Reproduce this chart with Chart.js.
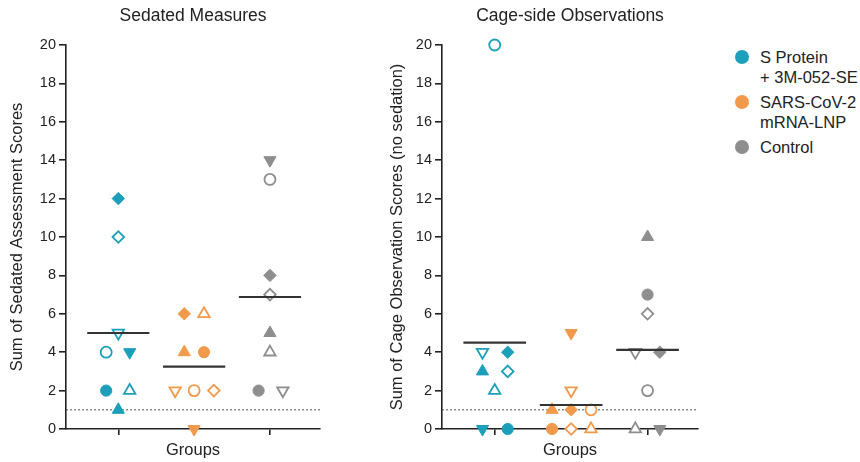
<!DOCTYPE html>
<html>
<head>
<meta charset="utf-8">
<script src="https://cdn.jsdelivr.net/npm/chart.js@4"></script>
<style>
    body { margin: 0; background: #fff; font-family: "Liberation Sans", Arial, sans-serif; }
    #wrap { position: relative; width: 860px; height: 462px; overflow: hidden; }
    canvas { position: absolute; top: 0; }
    .leg-text { position: absolute; left: 760px; font-size: 16.5px; line-height: 20px; color: #222; white-space: pre; }
    .leg-dot { position: absolute; left: 735px; width: 14px; height: 14px; border-radius: 50%; }
</style>
</head>
<body>
<div id="wrap">
    <canvas id="sedatedChart" width="340" height="462" style="left:0"></canvas>
    <canvas id="cageChart" width="380" height="462" style="left:340px"></canvas>
</div>
<script>
// Grupos e animais (cada forma de marcador = um animal)
const groupLabels = ['S Protein\n+ 3M-052-SE', 'SARS-CoV-2\nmRNA-LNP', 'Control'];
const groupColors = ['#1b9fba', '#f29a4b', '#8e8e8e'];
const animals = ['circle', 'openCircle', 'up', 'openUp', 'down', 'openDown', 'diamond', 'openDiamond'];

// Sedated Measures: score por animal (mesma ordem de "animals")
const sedatedSProtein = [2, 4, 1, 2, 4, 5, 12, 10];
const sedatedMrna = [4, 2, 4, 6, 0, 2, 6, 2];
const sedatedControl = [2, 13, 5, 4, 14, 2, 8, 7];
const sedatedMeans = [5, 3.25, 6.875];
// deslocamento horizontal de cada ponto, em unidades de grupo
const sedatedSProteinJitter = [-0.16, -0.16, 0, 0.15, 0.15, 0, 0, 0];
const sedatedMrnaJitter = [0.13, 0, -0.13, 0.13, 0, -0.25, -0.13, 0.26];
const sedatedControlJitter = [-0.15, 0, 0, 0, 0, 0.17, 0, 0];

// Cage-side Observations
const cageSProtein = [0, 20, 3, 2, 0, 4, 4, 3];
const cageMrna = [0, 1, 1, 0, 5, 2, 1, 0];
const cageControl = [7, 2, 10, 0, 0, 4, 4, 6];
const cageMeans = [4.5, 1.25, 4.125];
const cageSProteinJitter = [0.17, 0, -0.16, 0, -0.16, -0.16, 0.17, 0.17];
const cageMrnaJitter = [-0.25, 0.26, -0.25, 0.26, 0, 0, 0, 0];
const cageControlJitter = [0, 0, 0, -0.16, 0.16, -0.16, 0.16, 0];

const threshold = 1;
const groupTicks = [1, 2, 3];
const xLimits = [0.31, 3.66];
const yLimits = [0, 20];

const marker = {
    circle:      { style: 'circle',   rotation: 0,   radius: 5.6, filled: true },
    openCircle:  { style: 'circle',   rotation: 0,   radius: 5.5, filled: false },
    up:          { style: 'triangle', rotation: 0,   radius: 7,   filled: true },
    openUp:      { style: 'triangle', rotation: 0,   radius: 6.6, filled: false },
    down:        { style: 'triangle', rotation: 180, radius: 7,   filled: true },
    openDown:    { style: 'triangle', rotation: 180, radius: 6.6, filled: false },
    diamond:     { style: 'rectRot',  rotation: 0,   radius: 6.2, filled: true },
    openDiamond: { style: 'rectRot',  rotation: 0,   radius: 5.8, filled: false }
};

const textColor = '#222';
const fontFamily = '"Liberation Sans", Arial, sans-serif';

function groupDataset(values, jitter, groupIndex) {
    const color = groupColors[groupIndex];
    return {
        type: 'scatter',
        data: values.map((v, i) => ({ x: groupTicks[groupIndex] + jitter[i], y: v })),
        pointStyle: animals.map(a => marker[a].style),
        pointRotation: animals.map(a => marker[a].rotation),
        pointRadius: animals.map(a => marker[a].radius),
        pointBackgroundColor: animals.map(a => marker[a].filled ? color : '#fff'),
        pointBorderColor: color,
        pointBorderWidth: animals.map(a => marker[a].filled ? 1 : 1.8),
        clip: false,
        order: 1
    };
}

function meanDataset(mean, groupIndex) {
    const c = groupTicks[groupIndex];
    return {
        type: 'line',
        data: [{ x: c - 0.41, y: mean }, { x: c + 0.41, y: mean }],
        borderColor: '#333',
        borderWidth: 2.2,
        pointRadius: 0,
        order: 0
    };
}

function thresholdDataset() {
    return {
        type: 'line',
        data: [{ x: xLimits[0], y: threshold }, { x: xLimits[1], y: threshold }],
        borderColor: '#555',
        borderWidth: 1,
        borderDash: [2, 2],
        pointRadius: 0,
        order: 2
    };
}

function initializeChart(canvasId, title, yTitle, padLeft, padRight, yWidth, values, jitters, means) {
    const datasets = [thresholdDataset()];
    values.forEach((v, g) => datasets.push(groupDataset(v, jitters[g], g)));
    means.forEach((m, g) => datasets.push(meanDataset(m, g)));

    const axisGrid = {
        drawOnChartArea: false,
        drawTicks: true,
        color: textColor,
        lineWidth: 1.6
    };

    return new Chart(document.getElementById(canvasId), {
        type: 'scatter',
        data: { datasets: datasets },
        options: {
            responsive: false,
            animation: false,
            layout: { padding: { left: padLeft, right: padRight, top: 0, bottom: 0 } },
            scales: {
                x: {
                    type: 'linear',
                    min: xLimits[0],
                    max: xLimits[1],
                    afterBuildTicks: scale => { scale.ticks = groupTicks.map(v => ({ value: v })); },
                    afterFit: scale => { scale.height = 33; },
                    ticks: { display: false },
                    grid: Object.assign({}, axisGrid, { tickLength: 6 }),
                    border: { color: textColor, width: 1.6 },
                    title: {
                        display: true,
                        text: 'Groups',
                        color: textColor,
                        font: { family: fontFamily, size: 16.5 },
                        padding: { top: 0, bottom: 2 }
                    }
                },
                y: {
                    min: yLimits[0],
                    max: yLimits[1],
                    afterFit: scale => { scale.width = yWidth; },
                    ticks: {
                        stepSize: 2,
                        color: textColor,
                        padding: 3,
                        font: { family: fontFamily, size: 14.5 }
                    },
                    grid: Object.assign({}, axisGrid, { tickLength: 7 }),
                    border: { color: textColor, width: 1.6 },
                    title: {
                        display: true,
                        text: yTitle,
                        color: textColor,
                        font: { family: fontFamily, size: 16.5 },
                        padding: { top: 8, bottom: 0 }
                    }
                }
            },
            plugins: {
                legend: { display: false },
                tooltip: { enabled: false },
                title: {
                    display: true,
                    text: title,
                    fullSize: false,
                    color: textColor,
                    font: { family: fontFamily, size: 17.5, weight: 'normal' },
                    padding: { top: 6, bottom: 18 }
                }
            }
        }
    });
}

initializeChart('sedatedChart', 'Sedated Measures', 'Sum of Sedated Assessment Scores', 0, 20, 66,
    [sedatedSProtein, sedatedMrna, sedatedControl],
    [sedatedSProteinJitter, sedatedMrnaJitter, sedatedControlJitter],
    sedatedMeans);

initializeChart('cageChart', 'Cage-side Observations', 'Sum of Cage Observation Scores (no sedation)', 40, 22, 62,
    [cageSProtein, cageMrna, cageControl],
    [cageSProteinJitter, cageMrnaJitter, cageControlJitter],
    cageMeans);

// Legenda em HTML (rótulos com duas linhas)
const wrap = document.getElementById('wrap');
const legendTops = [47, 92, 137];
groupLabels.forEach((label, i) => {
    const dot = document.createElement('div');
    dot.className = 'leg-dot';
    dot.style.top = (legendTops[i] + 3) + 'px';
    dot.style.background = groupColors[i];
    wrap.appendChild(dot);

    const text = document.createElement('div');
    text.className = 'leg-text';
    text.style.top = legendTops[i] + 'px';
    text.textContent = label;
    wrap.appendChild(text);
});
</script>
</body>
</html>
